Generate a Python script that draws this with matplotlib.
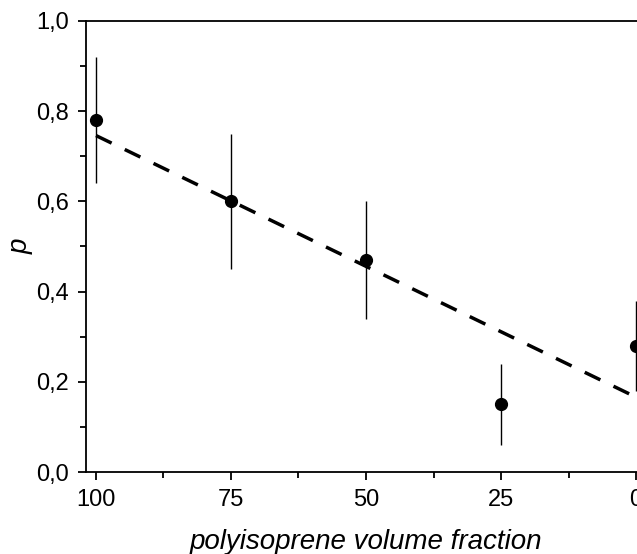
import matplotlib.pyplot as plt
import numpy as np
from matplotlib.ticker import FuncFormatter, MultipleLocator

plt.rcParams['font.family'] = ['Liberation Sans', 'DejaVu Sans']

# polyisoprene volume fraction (%) and p with error bar limits
fraction = [100, 75, 50, 25, 0]
p = [0.78, 0.60, 0.47, 0.15, 0.28]
p_low = [0.64, 0.45, 0.34, 0.06, 0.18]
p_high = [0.92, 0.75, 0.60, 0.24, 0.38]

fraction = np.array(fraction)
p = np.array(p)
yerr = [p - np.array(p_low), np.array(p_high) - p]

fig = plt.figure(figsize=(6.37, 5.54), dpi=100)
ax = fig.add_axes([86 / 637, 1 - 472 / 554, 560 / 637, 451 / 554])

ax.errorbar(fraction, p, yerr=yerr, fmt='o', color='black', ms=8.5,
            elinewidth=1, capsize=0, zorder=3)

# linear fit
k, b = np.polyfit(fraction, p, 1)
xf = np.array([100, 0])
ax.plot(xf, k * xf + b, color='black', lw=2.5, ls=(0, (5, 4.2)))

ax.set_xlim(101.85, -1.85)
ax.set_ylim(0, 1.0)
ax.xaxis.set_major_locator(MultipleLocator(25))
ax.xaxis.set_minor_locator(MultipleLocator(12.5))
ax.yaxis.set_major_locator(MultipleLocator(0.2))
ax.yaxis.set_minor_locator(MultipleLocator(0.1))
ax.yaxis.set_major_formatter(FuncFormatter(lambda v, pos: f'{v:.1f}'.replace('.', ',')))

ax.tick_params(which='both', direction='out', width=1.3, labelsize=17, pad=6)
ax.tick_params(which='major', length=6)
ax.tick_params(which='minor', length=4)
for s in ax.spines.values():
    s.set_linewidth(1.3)

ax.set_xlabel('polyisoprene volume fraction', fontsize=20, style='italic', labelpad=13)
ax.set_ylabel('p', fontsize=20, style='italic', labelpad=2)

fig.savefig('out.png', dpi=100)
